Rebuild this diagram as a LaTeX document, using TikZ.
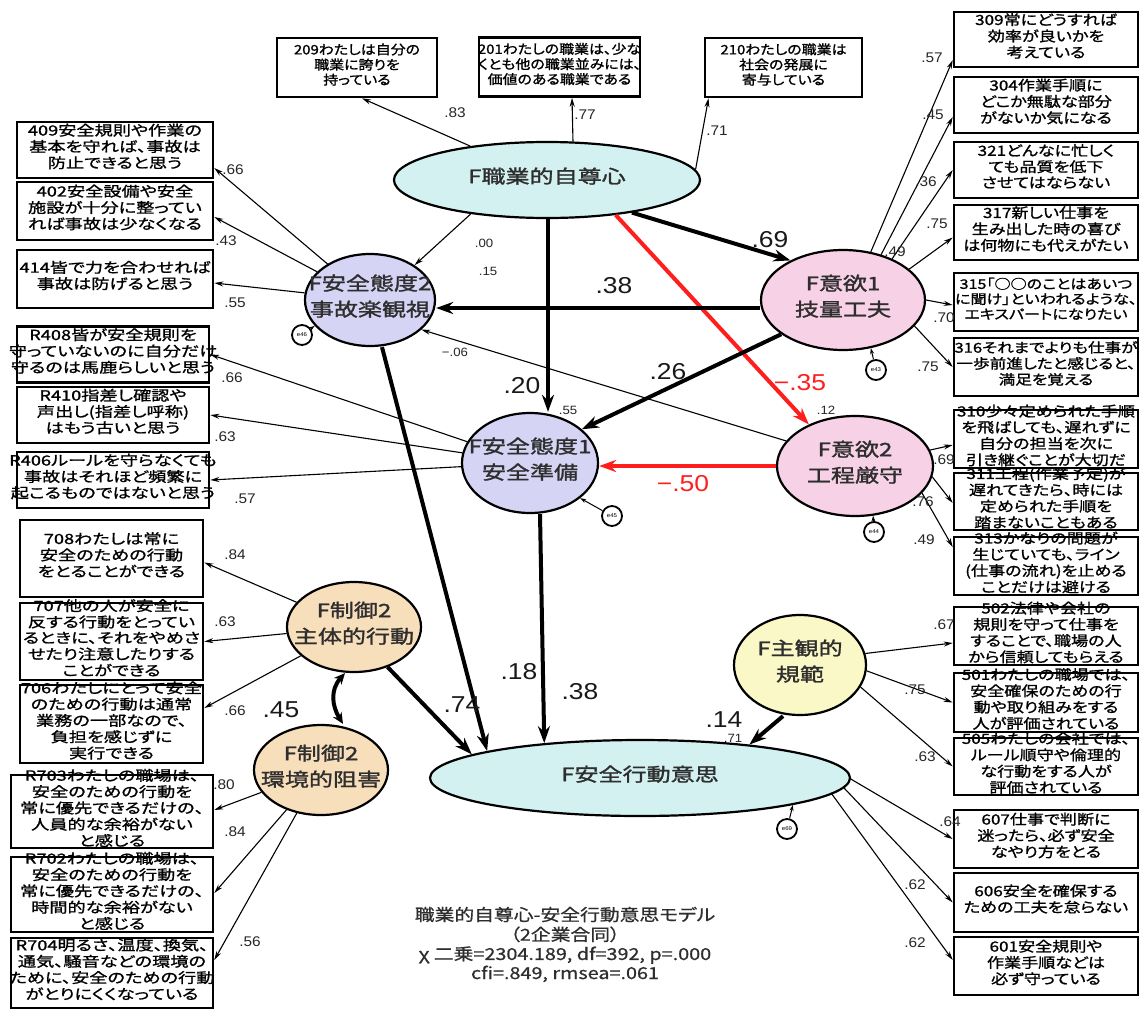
\documentclass[tikz,border=0pt]{standalone}
\usepackage{fontspec}
\usetikzlibrary{shapes.geometric,arrows.meta,calc}
\newfontfamily\boxjp[FakeStretch=1.3,FakeBold=1.2,RawFeature={+palt}]{Noto Sans CJK JP}
\newfontfamily\rboxjp[FakeStretch=1.22,FakeBold=1.2,RawFeature={+palt}]{Noto Sans CJK JP}
\newfontfamily\topjp[FakeStretch=1.15,FakeBold=1.2,RawFeature={+palt}]{Noto Sans CJK JP}
\newfontfamily\latjp[FakeStretch=1.3,FakeBold=1.5,RawFeature={+palt}]{Noto Sans CJK JP}
\newfontfamily\capjp[FakeStretch=1.2,FakeBold=0.8,RawFeature={+palt}]{Noto Sans CJK JP}
\newfontfamily\numbig[FakeStretch=1.15]{Liberation Sans}
\newfontfamily\numsm[FakeStretch=1.1]{Liberation Sans}
\newcommand\ctx[1]{\raisebox{-0.25em}{\smash{\makebox[0pt]{\begin{tabular}{@{}c@{}}#1\end{tabular}}}}}
\definecolor{cyanfill}{HTML}{D4F1F1}
\definecolor{lavfill}{HTML}{D6D4F4}
\definecolor{pinkfill}{HTML}{F7D2E6}
\definecolor{peachfill}{HTML}{F8DFBC}
\definecolor{yelfill}{HTML}{FAF8C6}
\definecolor{redarr}{HTML}{FF1E1E}
\definecolor{txtgray}{HTML}{2E2E2E}
\tikzset{
  obs/.style={draw=black, line width=2.6pt, fill=white, rectangle, inner sep=0pt,
    font=\boxjp\fontsize{14}{15}\selectfont, text=black},
  robs/.style={obs, font=\rboxjp\fontsize{14}{15}\selectfont, minimum width=184pt},
  topobs/.style={obs, font=\topjp\fontsize{13}{14}\selectfont, minimum height=59pt},
  lat/.style={ellipse, draw=black, line width=2.2pt, inner sep=0pt,
    font=\latjp\fontsize{18.5}{26}\selectfont, text=txtgray},
  mline/.style={line width=1.1pt, -{Stealth[length=9pt,width=5pt]}},
  sline/.style={line width=4pt, -{Stealth[length=17pt,width=12pt]}},
  rline/.style={sline, draw=redarr},
  eline/.style={line width=1pt, -{Stealth[length=6pt,width=4pt]}},
  dline/.style={line width=4pt, {Stealth[length=11pt,width=10pt]}-{Stealth[length=11pt,width=10pt]}},
  errc/.style={circle, draw=black, line width=1.8pt, fill=white, minimum size=20pt,
    inner sep=0pt, font=\numsm\fontsize{5.5}{6}\selectfont},
  lb/.style={inner sep=0pt, font=\numsm\fontsize{14}{14}\selectfont, text=black!85},
  lr/.style={inner sep=0pt, font=\numsm\fontsize{12}{12}\selectfont, text=black!85},
  lbig/.style={inner sep=0pt, font=\numbig\fontsize{23}{23}\selectfont, text=black!90},
  lred/.style={lbig, text=redarr},
}
\begin{document}
\begin{tikzpicture}[x=1pt,y=-1pt]
\fill[white] (0,0) rectangle (1148,1012);
\useasboundingbox (0,0) rectangle (1148,1012);

% ---------- latent variables ----------
\node[lat, fill=cyanfill, minimum width=306pt, minimum height=76pt] (prof) at (547,180) {\ctx{F職業的自尊心}};
\node[lat, fill=lavfill, minimum width=130pt, minimum height=92pt] (att2) at (370,300) {\ctx{F安全態度2\\事故楽観視}};
\node[lat, fill=pinkfill, minimum width=164pt, minimum height=100pt] (mot1) at (843,300) {\ctx{F意欲1\\技量工夫}};
\node[lat, fill=lavfill, minimum width=136pt, minimum height=100pt] (att1) at (530,463) {\ctx{F安全態度1\\安全準備}};
\node[lat, fill=pinkfill, minimum width=156pt, minimum height=100pt] (mot2) at (855,466) {\ctx{F意欲2\\工程厳守}};
\node[lat, fill=peachfill, minimum width=134pt, minimum height=90pt] (c2a) at (354,627) {\ctx{F制御2\\主体的行動}};
\node[lat, fill=peachfill, minimum width=134pt, minimum height=90pt] (c2b) at (321,770) {\ctx{F制御2\\環境的阻害}};
\node[lat, fill=yelfill, minimum width=132pt, minimum height=100pt] (norm) at (800,665) {\ctx{F主観的\\規範}};
\node[lat, fill=cyanfill, minimum width=420pt, minimum height=76pt] (int) at (640,778) {\ctx{F安全行動意思}};

% ---------- error terms ----------
\node[errc] (e46) at (302,335) {e46};
\node[errc] (e43) at (876,370) {e43};
\node[errc] (e45) at (612,516) {e45};
\node[errc] (e44) at (874,532) {e44};
\node[errc] (e69) at (787,829) {e69};

% ---------- top boxes ----------
\node[topobs, minimum width=160pt] (b209) at (357,67.5) {\ctx{209わたしは自分の\\職業に誇りを\\持っている}};
\node[topobs, minimum width=161pt] (b201) at (559.5,67) {\ctx{201わたしの職業は、少な\\くとも他の職業並みには、\\価値のある職業である}};
\node[topobs, minimum width=157pt] (b210) at (783.5,67.5) {\ctx{210わたしの職業は\\社会の発展に\\寄与している}};

% ---------- left boxes ----------
\node[obs, minimum width=196pt, minimum height=56pt] (b409) at (115,150) {\ctx{409安全規則や作業の\\基本を守れば、事故は\\防止できると思う}};
\node[obs, minimum width=196pt, minimum height=58pt] (b402) at (115,211) {\ctx{402安全設備や安全\\施設が十分に整ってい\\れば事故は少なくなる}};
\node[obs, minimum width=196pt, minimum height=58pt] (b414) at (115,279) {\ctx{414皆で力を合わせれば\\事故は防げると思う}};
\node[obs, minimum width=192pt, minimum height=56pt] (bR408) at (113,354.5) {\ctx{R408皆が安全規則を\\守っていないのに自分だけ\\守るのは馬鹿らしいと思う}};
\node[obs, minimum width=192pt, minimum height=56pt] (bR410) at (113,415) {\ctx{R410指差し確認や\\声出し(指差し呼称)\\はもう古いと思う}};
\node[obs, minimum width=192pt, minimum height=56pt] (bR406) at (113,480) {\ctx{R406ルールを守らなくても\\事故はそれほど頻繁に\\起こるものではないと思う}};
\node[obs, minimum width=183pt, minimum height=77pt] (b708) at (111.5,558.5) {\ctx{708わたしは常に\\安全のための行動\\をとることができる}};
\node[obs, minimum width=183pt, minimum height=77pt] (b707) at (111.5,641.5) {\ctx{707他の人が安全に\\反する行動をとってい\\るときに、それをやめさ\\せたり注意したりする\\ことができる}};
\node[obs, minimum width=183pt, minimum height=78pt] (b706) at (111.5,724) {\ctx{706わたしにとって安全\\のための行動は通常\\業務の一部なので、\\負担を感じずに\\実行できる}};
\node[obs, minimum width=202pt, minimum height=73pt] (bR703) at (112,811.5) {\ctx{R703わたしの職場は、\\安全のための行動を\\常に優先できるだけの、\\人員的な余裕がない\\と感じる}};
\node[obs, minimum width=202pt, minimum height=75pt] (bR702) at (112,894.5) {\ctx{R702わたしの職場は、\\安全のための行動を\\常に優先できるだけの、\\時間的な余裕がない\\と感じる}};
\node[obs, minimum width=202pt, minimum height=70pt] (bR704) at (112,973) {\ctx{R704明るさ、温度、換気、\\通気、騒音などの環境の\\ために、安全のための行動\\がとりにくくなっている}};

% ---------- right boxes ----------
\node[robs, minimum height=55pt] (b309) at (1046,39.5) {\ctx{309常にどうすれば\\効率が良いかを\\考えている}};
\node[robs, minimum height=56pt] (b304) at (1046,105) {\ctx{304作業手順に\\どこか無駄な部分\\がないか気になる}};
\node[robs, minimum height=56pt] (b321) at (1046,170) {\ctx{321どんなに忙しく\\ても品質を低下\\させてはならない}};
\node[robs, minimum height=55pt] (b317) at (1046,232.5) {\ctx{317新しい仕事を\\生み出した時の喜び\\は何物にも代えがたい}};
\node[robs, minimum height=58pt, font=\rboxjp\fontsize{13.2}{15}\selectfont] (b315) at (1046,302) {\ctx{315「○○のことはあいつ\\に聞け」といわれるような、\\エキスパートになりたい}};
\node[robs, minimum height=58pt, font=\rboxjp\fontsize{13.6}{15}\selectfont] (b316) at (1046,367) {\ctx{316それまでよりも仕事が\\一歩前進したと感じると、\\満足を覚える}};
\node[robs, minimum height=58pt] (b310) at (1046,439) {\ctx{310少々定められた手順\\を飛ばしても、遅れずに\\自分の担当を次に\\引き継ぐことが大切だ}};
\node[robs, minimum height=57pt] (b311) at (1046,501.5) {\ctx{311工程(作業予定)が\\遅れてきたら、時には\\定められた手順を\\踏まないこともある}};
\node[robs, minimum height=58pt] (b313) at (1046,566) {\ctx{313かなりの問題が\\生じていても、ライン\\(仕事の流れ)を止める\\ことだけは避ける}};
\node[robs, minimum height=58pt] (b502) at (1046,636) {\ctx{502法律や会社の\\規則を守って仕事を\\することで、職場の人\\から信頼してもらえる}};
\node[robs, minimum height=59pt] (b501) at (1046,702.5) {\ctx{501わたしの職場では、\\安全確保のための行\\動や取り組みをする\\人が評価されている}};
\node[robs, minimum height=57pt] (b505) at (1046,766.5) {\ctx{505わたしの会社では、\\ルール順守や倫理的\\な行動をする人が\\評価されている}};
\node[robs, minimum height=58pt] (b607) at (1046,839) {\ctx{607仕事で判断に\\迷ったら、必ず安全\\なやり方をとる}};
\node[robs, minimum height=59pt] (b606) at (1046,902.5) {\ctx{606安全を確保する\\ための工夫を怠らない}};
\node[robs, minimum height=58pt] (b601) at (1046,966) {\ctx{601安全規則や\\作業手順などは\\必ず守っている}};

% ---------- measurement paths ----------
\draw[mline] (prof) -- ([xshift=5pt]b209.south);
\draw[mline] (prof.56) -- ([xshift=12.5pt]b201.south);
\draw[mline] (prof.4.8) -- ([xshift=-75pt]b210.south);

\draw[mline] (att2) -- ([yshift=-18pt]b409.east);
\draw[mline] (att2) -- ([yshift=-6pt]b402.east);
\draw[mline] (att2) -- ([yshift=-4pt]b414.east);
\draw[mline] (att1) -- (bR408.east);
\draw[mline] (att1) -- (bR410.east);
\draw[mline] (att1) -- (bR406.east);
\draw[mline] (c2a) -- ([yshift=-4pt]b708.east);
\draw[mline] (c2a) -- (b707.east);
\draw[mline] (c2a) -- ([yshift=16pt]b706.east);
\draw[mline] (c2b) -- ([yshift=1.5pt]bR703.east);
\draw[mline] (c2b) -- ([yshift=1.5pt]bR702.east);
\draw[mline] (c2b) -- ([yshift=13pt]bR704.east);

\draw[mline] (mot1.60) -- ([yshift=-20.5pt]b309.west);
\draw[mline] (mot1.50) -- ([yshift=-12pt]b304.west);
\draw[mline] (mot1.40) -- (b321.west);
\draw[mline] (mot1.25) -- ([yshift=-5pt]b317.west);
\draw[mline] (mot1.0) -- ([yshift=-3pt]b315.west);
\draw[mline] (mot1.-20) -- (b316.west);
\draw[mline] (mot2.12) -- ([yshift=-6pt]b310.west);
\draw[mline] (mot2.-8) -- ([yshift=-1.5pt]b311.west);
\draw[mline] (mot2.-22) -- ([yshift=19pt]b313.west);
\draw[mline] (norm.10) -- ([yshift=-7pt]b502.west);
\draw[mline] (norm.-5) -- (b501.west);
\draw[mline] (norm.-20) -- (b505.west);
\draw[mline] ([xshift=-2pt]int.east) -- (b607.west);
\draw[mline] ([xshift=-8pt,yshift=-9pt]int.east) -- (b606.west);
\draw[mline] ([xshift=-20pt,yshift=-15pt]int.east) -- ([yshift=6pt]b601.west);

% ---------- structural paths ----------
\draw[mline] (prof.204) -- (att2.38);
\draw[sline] ([xshift=1pt]prof.south) -- ([xshift=18pt]att1.north);
\draw[sline] (prof.-21.7) -- (mot1.143);
\draw[rline] (prof.-27.9) -- (mot2.138);
\draw[sline] ([yshift=-8pt]mot1.west) -- ([yshift=-8pt]att2.east);
\draw[sline] (mot1.209) -- (att1.33);
\draw[mline] (mot2.160) -- (att2.-30);
\draw[rline] (mot2.west) -- (att1.east |- mot2.west);
\draw[sline] ([xshift=12pt]att2.south) -- (int.170);
\draw[sline] ([xshift=10pt]att1.south) -- (int.160);
\draw[sline] (c2a.-50) -- (int.172.5);
\draw[sline] ([xshift=-17pt]norm.south) -- (int.17.4);
\draw[dline] ([xshift=-9pt]c2a.south) .. controls (330,690) and (332,706) .. ([xshift=22pt]c2b.north);

% ---------- error arrows ----------
\draw[eline] (e46) -- (att2.205);
\draw[eline] (e43) -- (mot1.-60);
\draw[eline] (e45) -- (att1.-35);
\draw[eline] (e44) -- (mot2.-70);
\draw[eline] (e69) -- (int.-10);

% ---------- loading labels ----------
\node[lb] (l83) at (455,113) {.83};
\node[lb] (l77) at (585,115) {.77};
\node[lb] (l71a) at (717,131) {.71};
\node[lb] (l66a) at (233,170) {.66};
\node[lb] (l43) at (226,241) {.43};
\node[lb] (l55a) at (235,303) {.55};
\node[lb] (l66b) at (232,378) {.66};
\node[lb] (l63a) at (225,437) {.63};
\node[lb] (l57a) at (245,499) {.57};
\node[lb] (l84a) at (235,555) {.84};
\node[lb] (l63b) at (225,622) {.63};
\node[lb] (l66c) at (235,711) {.66};
\node[lb] (l80) at (224,785) {.80};
\node[lb] (l84b) at (235,832) {.84};
\node[lb] (l56) at (250,942) {.56};
\node[lb] (l57b) at (932,58) {.57};
\node[lb] (l45a) at (933,115) {.45};
\node[lb] (l36) at (926,182) {.36};
\node[lb] (l75a) at (937,224) {.75};
\node[lb] (l49a) at (895,252) {.49};
\node[lb] (l70) at (944,318) {.70};
\node[lb] (l75b) at (928,367) {.75};
\node[lb] (l69a) at (944,460) {.69};
\node[lb] (l76) at (923,502) {.76};
\node[lb] (l49b) at (924,540) {.49};
\node[lb] (l67) at (944,625) {.67};
\node[lb] (l75c) at (915,690) {.75};
\node[lb] (l63c) at (925,757) {.63};
\node[lb] (l64) at (950,822) {.64};
\node[lb] (l62a) at (915,885) {.62};
\node[lb] (l62b) at (915,943) {.62};

% ---------- small structural / R2 labels ----------
\node[lr] (r00) at (484,243) {.00};
\node[lr] (r15) at (488,271) {.15};
\node[lr] (r06) at (455,352) {−.06};
\node[lr] (r55) at (568,410) {.55};
\node[lr] (r12) at (826,410) {.12};
\node[lr] (r71) at (733,738) {.71};

% ---------- big path labels ----------
\node[lbig] (p38a) at (614,286) {.38};
\node[lbig] (p69) at (770,240) {.69};
\node[lbig] (p26) at (668,372) {.26};
\node[lbig] (p20) at (522,386) {.20};
\node[lred] (p35) at (800,383) {−.35};
\node[lred] (p50) at (683,484) {−.50};
\node[lbig] (p18) at (519,672) {.18};
\node[lbig] (p38b) at (580,692) {.38};
\node[lbig] (p74) at (462,705) {.74};
\node[lbig] (p45) at (281,710) {.45};
\node[lbig] (p14) at (724,720) {.14};

% ---------- caption ----------
\node[inner sep=0pt, font=\capjp\fontsize{16.5}{19}\selectfont, text=txtgray] (cap) at (565,948)
  {\ctx{職業的自尊心-安全行動意思モデル\\（2企業合同）\\χ 二乗=2304.189, df=392, p=.000\\cfi=.849, rmsea=.061}};
\end{tikzpicture}
\end{document}
